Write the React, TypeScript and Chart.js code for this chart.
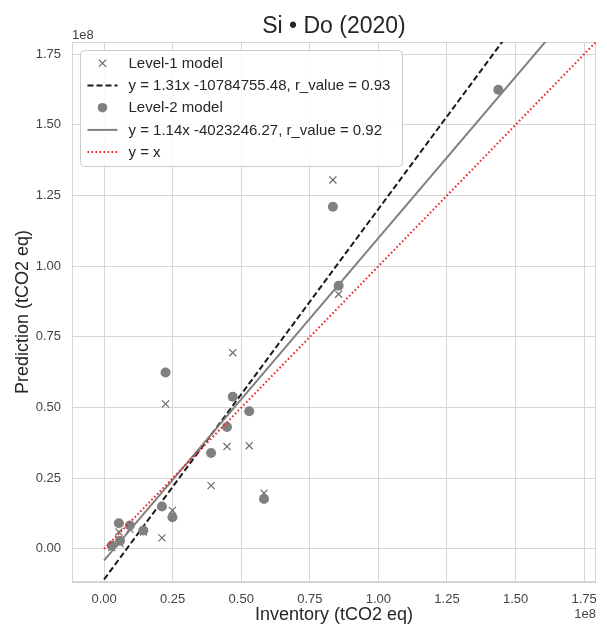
import React, { useEffect, useRef } from "react";
import { Chart, registerables } from "chart.js";

Chart.register(...registerables);

// ---- data (raw units, tCO2 eq) ----
const inventory = [2.8e6, 5.4e6, 5.8e6, 9.4e6, 14.3e6, 21.1e6, 22.4e6, 24.9e6, 39.0e6, 44.8e6, 46.9e6, 52.9e6, 58.3e6, 83.4e6, 85.5e6, 143.7e6];
const level1Pred: (number | null)[] = [0.5e6, 6.0e6, 2.0e6, 7.0e6, 6.0e6, 3.9e6, 51.3e6, 13.6e6, 22.4e6, 36.2e6, 69.4e6, 36.5e6, 19.7e6, 130.5e6, 90.1e6, null];
const level2Pred = [1.2e6, 9.1e6, 2.9e6, 8.3e6, 6.5e6, 15.0e6, 62.4e6, 11.2e6, 33.9e6, 43.1e6, 53.8e6, 48.7e6, 17.7e6, 121.0e6, 93.1e6, 162.4e6];

const fit1Slope = 1.31;
const fit1Intercept = -10784755.48;
const fit1R = 0.93;
const fit2Slope = 1.14;
const fit2Intercept = -4023246.27;
const fit2R = 0.92;

const lineXs = [0, 1.8e8];

const axisMin = -0.117e8;
const axisMax = 1.793e8;
const tickValues = [0, 0.25e8, 0.5e8, 0.75e8, 1.0e8, 1.25e8, 1.5e8, 1.75e8];
const tickLabels = ["0.00", "0.25", "0.50", "0.75", "1.00", "1.25", "1.50", "1.75"];

const titleText = "Si \u2022 Do (2020)";
const xTitle = "Inventory (tCO2 eq)";
const yTitle = "Prediction (tCO2 eq)";
const offsetText = "1e8";

const FONT = "'Liberation Sans', Arial, Helvetica, sans-serif";
const GRID = "#d6d6d6";
const TEXT = "#262626";
const TICK = "#444444";

const decorPlugin = {
  id: "decor",
  beforeDatasetsDraw(chart: any) {
    const { ctx, chartArea: a } = chart;
    ctx.save();
    ctx.strokeStyle = GRID;
    ctx.lineWidth = 1;
    ctx.strokeRect(a.left + 0.5, a.top + 0.5, a.right - a.left - 1, a.bottom - a.top - 1);
    ctx.restore();
  },
  afterDraw(chart: any) {
    const { ctx, chartArea: a } = chart;
    ctx.save();
    // title
    ctx.fillStyle = TEXT;
    ctx.font = `23px ${FONT}`;
    ctx.textAlign = "center";
    ctx.textBaseline = "alphabetic";
    ctx.fillText(titleText, (a.left + a.right) / 2, 33);
    // offset texts
    ctx.fillStyle = TICK;
    ctx.font = `13px ${FONT}`;
    ctx.textAlign = "left";
    ctx.fillText(offsetText, a.left, 39);
    ctx.textAlign = "right";
    ctx.fillText(offsetText, a.right, 618);

    // legend
    const datasets = chart.data.datasets;
    const x0 = a.left + 8.5;
    const y0 = a.top + 8.5;
    const w = 322;
    const h = 116;
    const r = 4;
    ctx.beginPath();
    ctx.moveTo(x0 + r, y0);
    ctx.lineTo(x0 + w - r, y0);
    ctx.quadraticCurveTo(x0 + w, y0, x0 + w, y0 + r);
    ctx.lineTo(x0 + w, y0 + h - r);
    ctx.quadraticCurveTo(x0 + w, y0 + h, x0 + w - r, y0 + h);
    ctx.lineTo(x0 + r, y0 + h);
    ctx.quadraticCurveTo(x0, y0 + h, x0, y0 + h - r);
    ctx.lineTo(x0, y0 + r);
    ctx.quadraticCurveTo(x0, y0, x0 + r, y0);
    ctx.closePath();
    ctx.fillStyle = "rgba(255,255,255,0.85)";
    ctx.fill();
    ctx.strokeStyle = "#cccccc";
    ctx.lineWidth = 1;
    ctx.stroke();

    const hx0 = x0 + 7;
    const hx1 = x0 + 37;
    const hxc = (hx0 + hx1) / 2;
    const textX = x0 + 48;
    datasets.forEach((ds: any, i: number) => {
      const cy = y0 + 12.8 + i * 22.2;
      ctx.save();
      if (!ds.showLine) {
        if (ds.pointStyle === "crossRot") {
          const s = 3.6;
          ctx.strokeStyle = ds.borderColor;
          ctx.lineWidth = 1.2;
          ctx.beginPath();
          ctx.moveTo(hxc - s, cy - s);
          ctx.lineTo(hxc + s, cy + s);
          ctx.moveTo(hxc + s, cy - s);
          ctx.lineTo(hxc - s, cy + s);
          ctx.stroke();
        } else {
          ctx.fillStyle = ds.backgroundColor;
          ctx.beginPath();
          ctx.arc(hxc, cy, 4.8, 0, Math.PI * 2);
          ctx.fill();
        }
      } else {
        ctx.strokeStyle = ds.borderColor;
        ctx.lineWidth = ds.borderWidth;
        ctx.setLineDash(ds.borderDash || []);
        ctx.beginPath();
        ctx.moveTo(hx0, cy);
        ctx.lineTo(hx1, cy);
        ctx.stroke();
      }
      ctx.restore();
      ctx.fillStyle = TEXT;
      ctx.font = `15px ${FONT}`;
      ctx.textAlign = "left";
      ctx.textBaseline = "middle";
      ctx.fillText(ds.label, textX, cy + 0.5);
    });
    ctx.restore();
  },
};

export default function App() {
  const ref = useRef<HTMLCanvasElement | null>(null);

  useEffect(() => {
    document.body.style.margin = "0";
    const canvas = ref.current;
    if (!canvas) return;

    const l1Points = inventory
      .map((x, i) => ({ x, y: level1Pred[i] }))
      .filter((p) => p.y !== null) as { x: number; y: number }[];
    const l2Points = inventory.map((x, i) => ({ x, y: level2Pred[i] }));
    const fit1Points = lineXs.map((x) => ({ x, y: fit1Slope * x + fit1Intercept }));
    const fit2Points = lineXs.map((x) => ({ x, y: fit2Slope * x + fit2Intercept }));
    const identityPoints = lineXs.map((x) => ({ x, y: x }));

    const tickCb = (_v: any, idx: number) => tickLabels[idx];

    const makeScale = (isX: boolean) => ({
      type: "linear" as const,
      position: isX ? ("bottom" as const) : ("left" as const),
      min: axisMin,
      max: axisMax,
      afterFit: (s: any) => {
        if (isX) s.height = 48;
        else s.width = 72;
      },
      afterBuildTicks: (s: any) => {
        s.ticks = tickValues.map((v) => ({ value: v }));
      },
      ticks: {
        callback: tickCb,
        font: { family: FONT, size: 13 },
        color: TICK,
        padding: isX ? 10 : 11,
        autoSkip: false,
        maxRotation: 0,
      },
      grid: { color: GRID, lineWidth: 1, drawTicks: false },
      border: { display: true, color: GRID },
      title: {
        display: true,
        text: isX ? xTitle : yTitle,
        font: { family: FONT, size: 18 },
        color: TEXT,
        padding: isX ? { top: 0, bottom: 4 } : { top: 12, bottom: 0 },
      },
    });

    const chart = new Chart(canvas, {
      type: "scatter",
      data: {
        datasets: [
          {
            label: "Level-1 model",
            data: l1Points,
            pointStyle: "crossRot",
            pointRadius: 5,
            pointBorderWidth: 1.2,
            borderColor: "#6a6a6a",
            backgroundColor: "#6a6a6a",
            showLine: false,
            order: 5,
          },
          {
            label: `y = ${fit1Slope}x ${fit1Intercept}, r_value = ${fit1R}`,
            data: fit1Points,
            showLine: true,
            borderColor: "#1a1a1a",
            backgroundColor: "#1a1a1a",
            borderWidth: 2,
            borderDash: [6, 3],
            pointRadius: 0,
            clip: 0,
            order: 4,
          },
          {
            label: "Level-2 model",
            data: l2Points,
            pointStyle: "circle",
            pointRadius: 5,
            pointBorderWidth: 0,
            borderColor: "#808080",
            backgroundColor: "#808080",
            showLine: false,
            order: 3,
          },
          {
            label: `y = ${fit2Slope}x ${fit2Intercept}, r_value = ${fit2R}`,
            data: fit2Points,
            showLine: true,
            borderColor: "#808080",
            backgroundColor: "#808080",
            borderWidth: 2,
            pointRadius: 0,
            clip: 0,
            order: 2,
          },
          {
            label: "y = x",
            data: identityPoints,
            showLine: true,
            borderColor: "#ee2222",
            backgroundColor: "#ee2222",
            borderWidth: 2,
            borderDash: [1.6, 2.4],
            pointRadius: 0,
            clip: 0,
            order: 1,
          },
        ] as any,
      },
      options: {
        responsive: false,
        animation: false,
        events: [],
        layout: { padding: { top: 42, right: 9, left: 0, bottom: 0 } },
        plugins: {
          legend: { display: false },
          tooltip: { enabled: false },
          title: { display: false },
        },
        scales: {
          x: makeScale(true),
          y: makeScale(false),
        } as any,
      },
      plugins: [decorPlugin],
    });

    return () => chart.destroy();
  }, []);

  return (
    <div style={{ width: 607, height: 630, background: "#ffffff" }}>
      <canvas ref={ref} width={607} height={630} style={{ display: "block" }} />
    </div>
  );
}
